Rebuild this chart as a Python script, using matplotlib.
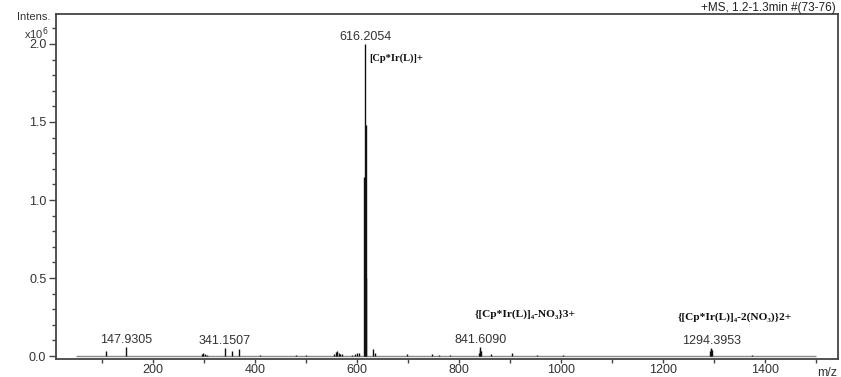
import matplotlib as mpl
mpl.use('Agg')
import matplotlib.pyplot as plt
from matplotlib.ticker import MultipleLocator, FixedLocator

# peak list (m/z, intensity in 1e6 counts)
peak_mz = [108.0, 147.93, 296, 299, 302, 306, 341.15, 355, 369, 410, 480, 500,
           555, 558, 561, 564, 567, 570, 590, 596, 600, 604,
           614.2, 615.2, 616.2054, 617.2, 618.2, 632, 636, 698,
           747, 760, 782, 838.6, 840.6, 841.609, 842.6, 862, 904, 953, 1004,
           1292.4, 1293.4, 1294.3953, 1295.4, 1374]
peak_int = [0.03, 0.058, 0.012, 0.02, 0.015, 0.008, 0.05, 0.03, 0.047, 0.005, 0.004, 0.005,
            0.015, 0.025, 0.03, 0.02, 0.01, 0.012, 0.008, 0.012, 0.02, 0.018,
            1.15, 0.7, 2.0, 1.48, 0.5, 0.045, 0.02, 0.01,
            0.01, 0.006, 0.008, 0.02, 0.04, 0.06, 0.035, 0.012, 0.02, 0.006, 0.004,
            0.03, 0.045, 0.053, 0.04, 0.005]

label_mz = [147.93, 341.15, 616.2054, 841.609, 1294.3953]
label_txt = ['147.9305', '341.1507', '616.2054', '841.6090', '1294.3953']
label_int = [0.058, 0.05, 2.0, 0.06, 0.053]

species = ['[Cp*Ir(L)]+', '{[Cp*Ir(L)]\u2084-NO\u2083}3+', '{[Cp*Ir(L)]\u2084-2(NO\u2083)}2+']
species_mz = [625, 929, 1341]
species_y = [1.91, 0.27, 0.25]

scan_range = [50, 1500]

plt.rcParams['font.family'] = ['Liberation Sans', 'DejaVu Sans']
fig = plt.figure(figsize=(8.41, 3.77), dpi=100)
ax = fig.add_axes([0.0666, 0.0477, 0.9298, 0.9152])

ax.hlines(0, scan_range[0], scan_range[1], color='#8a8a8a', lw=1.0)
ax.vlines(peak_mz, 0, peak_int, color='#111111', lw=1.0)

for mz, txt, h in zip(label_mz, label_txt, label_int):
    ax.text(mz, h + 0.005, txt, ha='center', va='bottom', fontsize=9, color='#333333')

for i, (txt, mz, y) in enumerate(zip(species, species_mz, species_y)):
    ha = 'left' if i == 0 else 'center'
    ax.text(mz, y, txt, ha=ha, va='center', fontsize=7.5 if i == 0 else 8.2,
            fontweight='bold', family=['Liberation Serif', 'DejaVu Serif'], color='#111111')

ax.set_xlim(10, 1543)
ax.set_ylim(-0.019, 2.192)

ax.xaxis.set_major_locator(FixedLocator([200, 400, 600, 800, 1000, 1200, 1400]))
ax.xaxis.set_minor_locator(FixedLocator([100, 300, 500, 700, 900, 1100, 1300, 1500]))
ax.yaxis.set_major_locator(MultipleLocator(0.5))
ax.yaxis.set_minor_locator(MultipleLocator(0.1))
ax.yaxis.set_major_formatter(mpl.ticker.FormatStrFormatter('%.1f'))

for s in ax.spines.values():
    s.set_color('#444444')
    s.set_linewidth(1.3)
ax.tick_params(which='both', colors='#444444', labelcolor='#333333', labelsize=9, width=1)
ax.tick_params(axis='y', which='major', length=5, pad=2)
ax.tick_params(axis='y', which='minor', length=3)
ax.tick_params(axis='x', which='both', length=3, pad=0.5)

fig.text(0.060, 0.968, 'Intens.', ha='right', va='top', fontsize=8, color='#333333')
fig.text(0.058, 0.932, r'x10$^6$', ha='right', va='top', fontsize=8, color='#333333')
fig.text(0.994, 0.995, '+MS, 1.2-1.3min #(73-76)', ha='right', va='top', fontsize=8.5, color='#222222')
ax.text(0.9995, -0.022, 'm/z', transform=ax.transAxes, ha='right', va='top', fontsize=9, color='#333333')

plt.savefig('out.png', dpi=100)
